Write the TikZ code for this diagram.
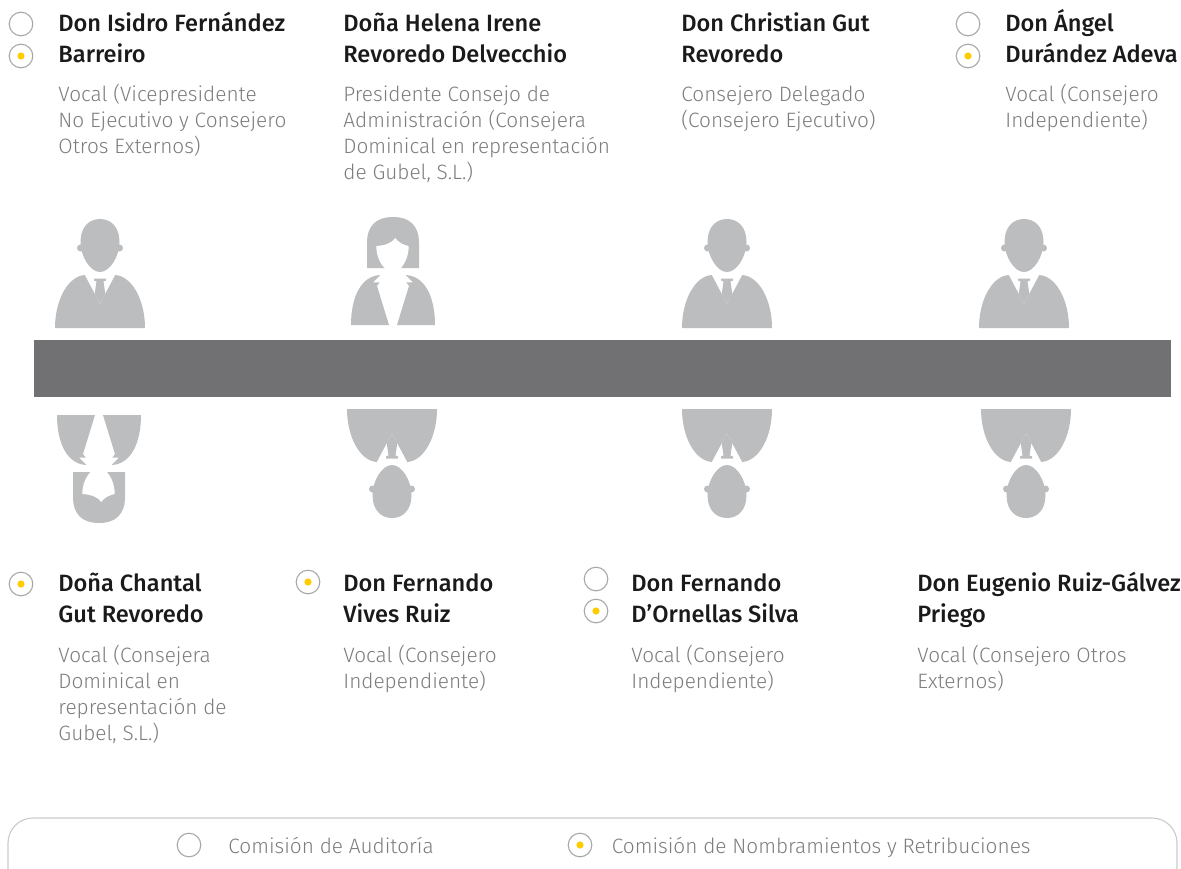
\documentclass[tikz,border=0pt]{standalone}
\usepackage{fontspec}
\setmainfont{Fira Sans}
\newfontfamily\namefont{Fira Sans Medium}
\newfontfamily\descfont{Fira Sans Light}
\definecolor{pgray}{HTML}{BCBDBF}
\definecolor{tablegray}{HTML}{717073}
\definecolor{namecol}{HTML}{1A1A1A}
\definecolor{desccol}{HTML}{7D7D7D}
\definecolor{ringcol}{HTML}{A8A8A8}
\definecolor{dotcol}{HTML}{FFCC00}
\definecolor{legline}{HTML}{CBCBCB}
\newcommand\tb[1]{\vtop{\halign{##\hfil\cr#1\crcr}}}
\tikzset{
  nm/.style={anchor=base west, inner sep=0pt, text=namecol, font=\namefont\fontsize{11.8}{15.3}\selectfont},
  ds/.style={anchor=base west, inner sep=0pt, text=desccol, font=\descfont\fontsize{10.4}{13}\selectfont},
  lg/.style={anchor=base west, inner sep=0pt, text=desccol, font=\descfont\fontsize{10.4}{13}\selectfont},
  ring/.style={circle, draw=ringcol, line width=0.55pt, minimum size=11.8pt, inner sep=0pt},
  dotc/.style={circle, fill=dotcol, minimum size=3.6pt, inner sep=0pt},
  male/.pic={
    \fill[pgray] (-19.5,86) .. controls (-19.5,101) and (-11,109) .. (0,109)
      .. controls (11,109) and (19.5,101) .. (19.5,86)
      .. controls (19.5,72) and (10,56) .. (0,56)
      .. controls (-10,56) and (-19.5,72) .. (-19.5,86) -- cycle;
    \fill[pgray] (-19.5,80) circle (3.5) (19.5,80) circle (3.5);
    \fill[pgray] (-15,53) .. controls (-32,52) and (-45,28) .. (-45,0) -- (45,0)
      .. controls (45,28) and (32,52) .. (15,53) -- cycle;
    \fill[white] (-15.6,54) -- (15.6,54) -- (0,24.5) -- cycle;
    \fill[pgray] (0,24.5) -- (-5.3,34) -- (-3.5,46.5) -- (-6,47.5) -- (-6,49.5)
      -- (6,49.5) -- (6,47.5) -- (3.5,46.5) -- (5.3,34) -- cycle;
  },
  female/.pic={
    \fill[pgray] (-26,57) -- (-26,82) .. controls (-26,100) and (-16,108) .. (0,108)
      .. controls (16,108) and (26,100) .. (26,82) -- (26,57) -- cycle;
    \fill[white] (-16.7,79) .. controls (-8,79.5) and (-1,82) .. (2.3,87)
      .. controls (5,83) and (10,80) .. (15.7,79)
      .. controls (15.7,68) and (11,60) .. (7,56) -- (-7.3,56)
      .. controls (-12,60) and (-16.7,68) .. (-16.7,79) -- cycle;
    \fill[pgray] (-42,0) .. controls (-42,28) and (-32,49) .. (-12.7,50) -- (-20,42.7)
      -- (-13.3,42.7) -- (-16,39) -- (-4,0) -- cycle;
    \fill[pgray] (42,0) .. controls (42,28) and (32,49) .. (12.7,50) -- (20,42.7)
      -- (13.3,42.7) -- (16,39) -- (4,0) -- cycle;
  }
}
\begin{document}
\begin{tikzpicture}[x=0.5pt,y=-0.5pt]
\useasboundingbox (0,0) rectangle (1181,868);
\clip (0,0) rectangle (1181,868);
\fill[white] (0,0) rectangle (1181,868);

% table
\fill[tablegray] (34,340) rectangle (1171,397);

% people
\pic[yscale=-1] at (100,328) {male};
\pic[yscale=-1] at (393,325) {female};
\pic[yscale=-1] at (727,328) {male};
\pic[yscale=-1] at (1024,328) {male};
\pic at (99,415) {female};
\pic at (392,409) {male};
\pic at (727,409) {male};
\pic at (1026,409) {male};

% top row
\node[ring] (r1a) at (21,24) {};
\node[ring] (r1b) at (21,56) {};
\node[dotc] (d1b) at (r1b.center) {};
\node[nm] (n1) at (58,31.5) {\tb{Don Isidro Fernández\cr Barreiro}};
\node[ds] (t1) at (58,101) {\tb{Vocal (Vicepresidente\cr No Ejecutivo y Consejero\cr Otros Externos)}};

\node[nm] (n2) at (343,31.5) {\tb{Doña Helena Irene\cr Revoredo Delvecchio}};
\node[ds] (t2) at (343,101) {\tb{Presidente Consejo de\cr Administración (Consejera\cr Dominical en representación\cr de Gubel, S.L.)}};

\node[nm] (n3) at (681,31.5) {\tb{Don Christian Gut\cr Revoredo}};
\node[ds] (t3) at (681,101) {\tb{Consejero Delegado\cr (Consejero Ejecutivo)}};

\node[ring] (r4a) at (968,24) {};
\node[ring] (r4b) at (968,56) {};
\node[dotc] (d4b) at (r4b.center) {};
\node[nm] (n4) at (1005,31.5) {\tb{Don Ángel\cr Durández Adeva}};
\node[ds] (t4) at (1005,101) {\tb{Vocal (Consejero\cr Independiente)}};

% bottom row
\node[ring] (r5) at (21,584) {};
\node[dotc] (d5) at (r5.center) {};
\node[nm] (n5) at (58,591.5) {\tb{Doña Chantal\cr Gut Revoredo}};
\node[ds] (t5) at (58,662.5) {\tb{Vocal (Consejera\cr Dominical en\cr representación de\cr Gubel, S.L.)}};

\node[ring] (r6) at (308,582) {};
\node[dotc] (d6) at (r6.center) {};
\node[nm] (n6) at (343,591.5) {\tb{Don Fernando\cr Vives Ruiz}};
\node[ds] (t6) at (343,662.5) {\tb{Vocal (Consejero\cr Independiente)}};

\node[ring] (r7a) at (596,579) {};
\node[ring] (r7b) at (596,611) {};
\node[dotc] (d7b) at (r7b.center) {};
\node[nm] (n7) at (631,591.5) {\tb{Don Fernando\cr D’Ornellas Silva}};
\node[ds] (t7) at (631,662.5) {\tb{Vocal (Consejero\cr Independiente)}};

\node[nm] (n8) at (917,591.5) {\tb{Don Eugenio Ruiz-Gálvez\cr Priego}};
\node[ds] (t8) at (917,662.5) {\tb{Vocal (Consejero Otros\cr Externos)}};

% legend
\draw[legline, line width=0.55pt, rounded corners=12.5pt] (8,818) rectangle (1177,910);
\node[ring] (lr1) at (189,845) {};
\node[lg] (l1) at (228,853) {Comisión de Auditoría};
\node[ring] (lr2) at (580,845) {};
\node[dotc] (ld2) at (lr2.center) {};
\node[lg] (l2) at (611.5,853) {Comisión de Nombramientos y Retribuciones};
\end{tikzpicture}
\end{document}
